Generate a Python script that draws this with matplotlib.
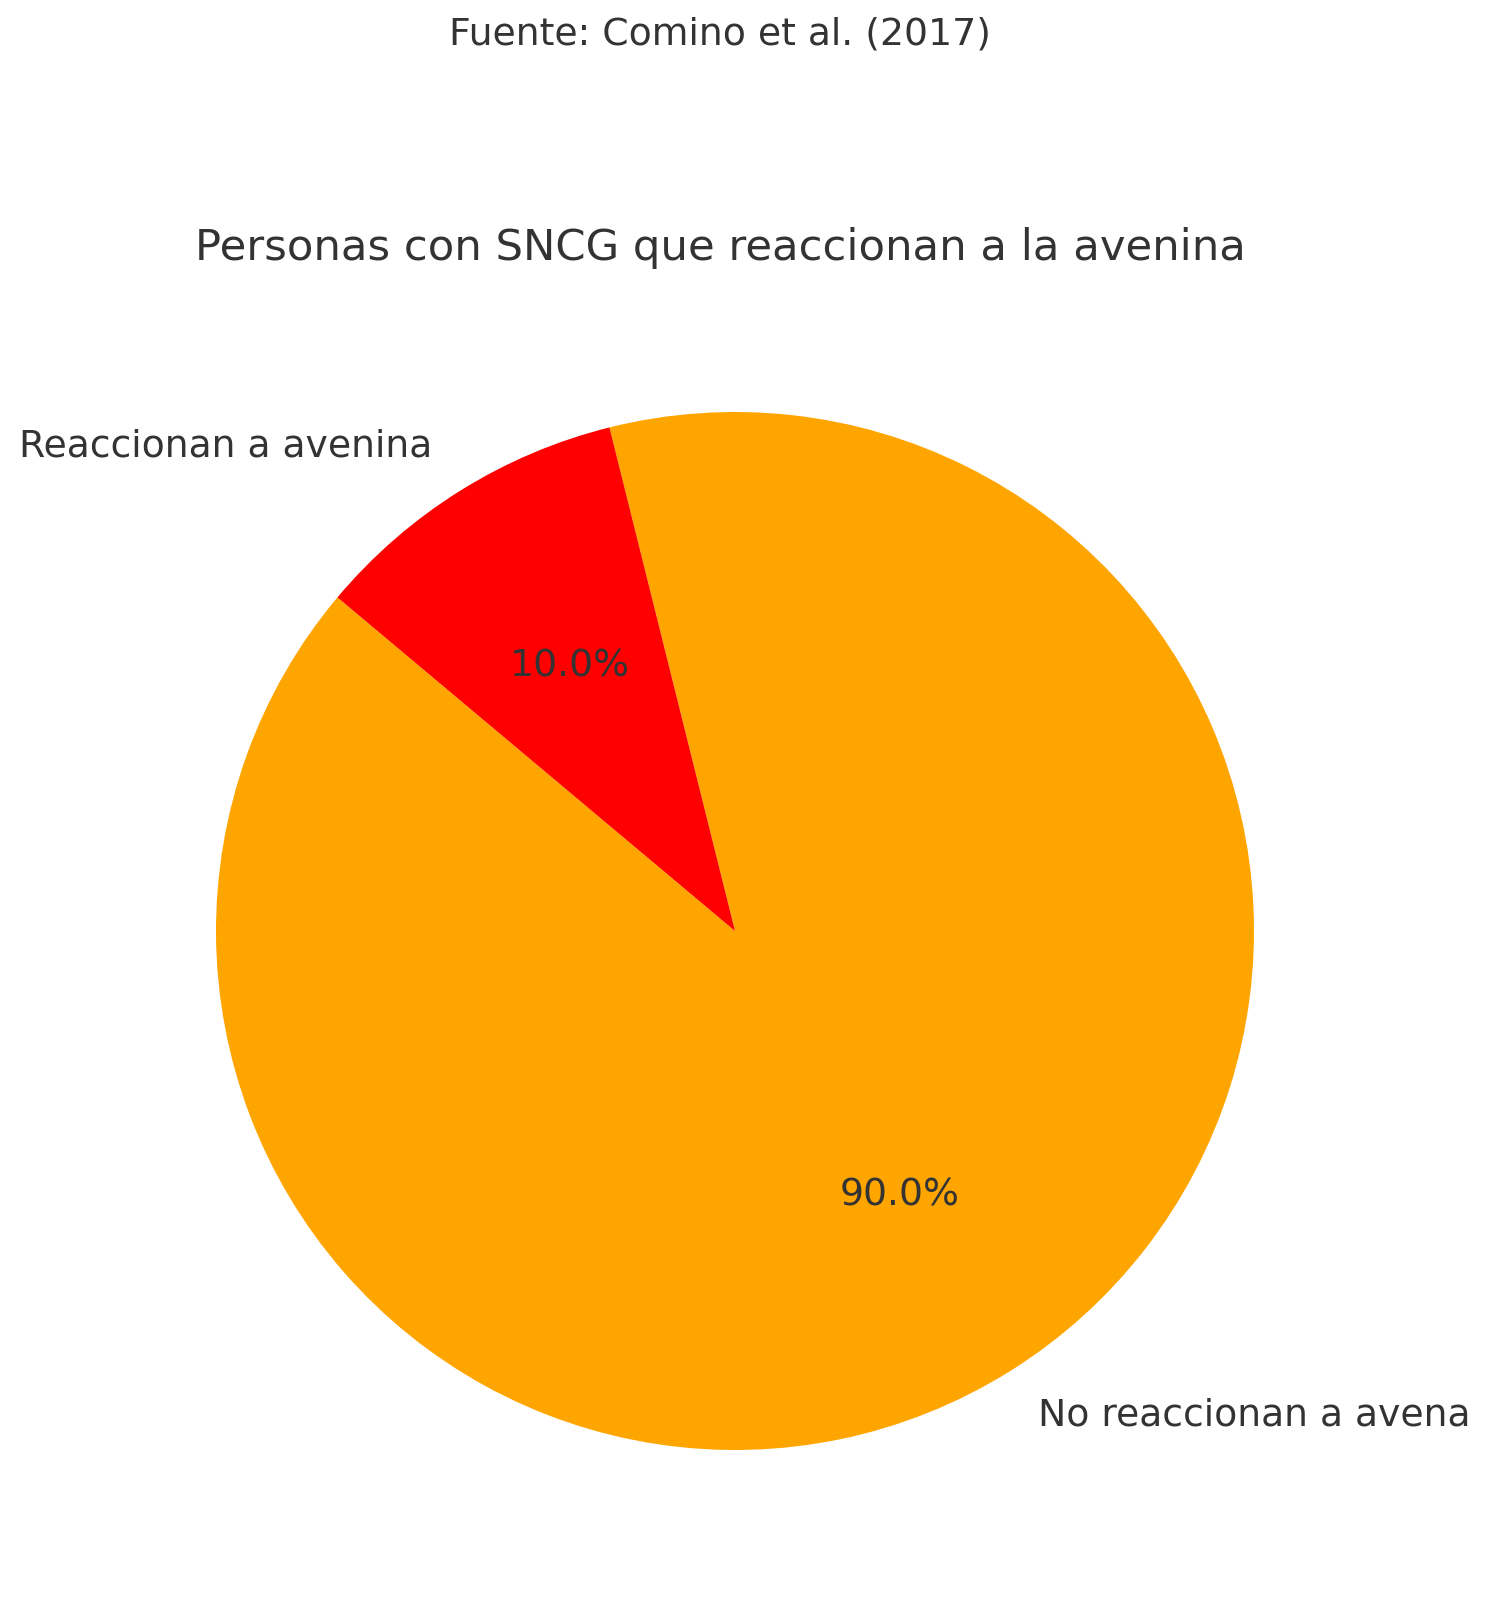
import matplotlib.pyplot as plt

labels = ['No reaccionan a avena', 'Reaccionan a avenina']
sizes = [90, 10]
colors = ['#FFA500', '#FF0000']

W, H = 1492, 1600
fig = plt.figure(figsize=(W / 160, H / 160), dpi=160)
cx, cy, r = 735, 931, 519
half = r * 1.1
ax = fig.add_axes([(cx - half) / W, (H - cy - half) / H, 2 * half / W, 2 * half / H])

ax.pie(sizes, labels=labels, colors=colors, autopct='%1.1f%%', startangle=140,
       textprops={'fontsize': 17, 'color': '#333333'})
ax.set_xlim(-1.1, 1.1)
ax.set_ylim(-1.1, 1.1)
ax.set_aspect('equal')

fig.text(720 / W, 1 - 248 / H, 'Personas con SNCG que reaccionan a la avenina',
         ha='center', va='center', fontsize=19.5, color='#333333')
fig.text(720 / W, 1 - 35 / H, 'Fuente: Comino et al. (2017)',
         ha='center', va='center', fontsize=17, color='#333333')

fig.savefig('out.png', dpi=160)
